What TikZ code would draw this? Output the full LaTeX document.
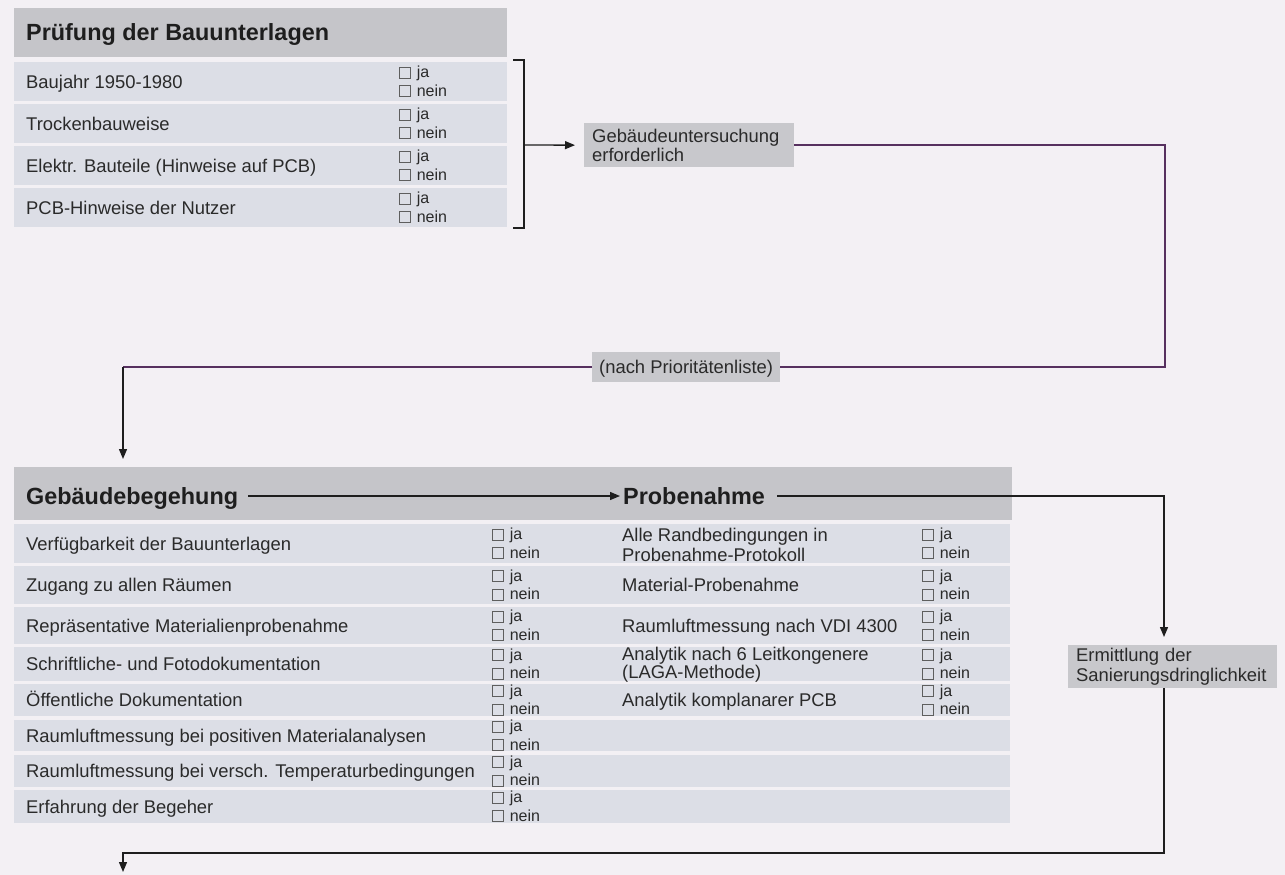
\documentclass[tikz,border=0pt]{standalone}
\usepackage{fontspec}
\setmainfont{Liberation Sans}
\usetikzlibrary{arrows.meta,calc}

\definecolor{paper}{HTML}{F3F0F4}
\definecolor{hdrgray}{HTML}{C5C5C9}
\definecolor{rowgray}{HTML}{DCDEE6}
\definecolor{boxfill}{HTML}{C8C8CC}
\definecolor{txt}{HTML}{2A2A2A}
\definecolor{boxgray}{HTML}{5E5E5E}
\definecolor{purp}{HTML}{56305F}
\definecolor{ink}{HTML}{1E1E1E}

\newcommand{\itemfont}{\fontsize{18.4}{19.5}\selectfont}
\newcommand{\headfont}{\fontsize{23.4}{26}\selectfont\bfseries}
\newcommand{\ynfont}{\fontsize{16}{18.5}\selectfont}
% empty tick box followed by a small gap
\newcommand{\chk}{\raisebox{-0.2pt}{\textcolor{boxgray}{\fboxsep=0pt\fboxrule=0.8pt\fbox{\hbox to 10pt{\vrule width 0pt height 10pt\hfil}}}}\hspace{6pt}}
\newcommand{\jn}{\chk ja\\\chk nein}

\tikzset{
  head/.style={font=\headfont, text=ink, inner sep=0pt, text height=16.8pt, text depth=0pt, anchor=west},
  item/.style={font=\itemfont, text=txt, inner sep=0pt, text height=13.2pt, text depth=0pt, anchor=west},
  item2/.style={font=\itemfont, text=txt, inner sep=0pt, align=left, anchor=west},
  yn/.style={font=\ynfont, text=txt, inner sep=0pt, align=left, anchor=west},
  graybox/.style={fill=boxfill, font=\itemfont, text=txt, align=left, anchor=north west, inner xsep=8pt, inner ysep=0pt},
  conn/.style={line width=1.3pt, draw=ink},
  pconn/.style={line width=1.6pt, draw=purp},
  arr/.style={-{Triangle[length=10pt,width=8pt]}},
}

\begin{document}
\begin{tikzpicture}[x=1pt, y=-1pt]
\useasboundingbox (0,0) rectangle (1285,875);
\fill[paper] (0,0) rectangle (1285,875);

% ---------- Prüfung der Bauunterlagen ----------
\fill[hdrgray] (14,8) rectangle (507,57);
\foreach \a/\b in {62/101,104/143,146/185,188/227}
  \fill[rowgray] (14,\a) rectangle (507,\b);
\node[head] (h1) at (26,32.5) {Prüfung der Bauunterlagen};

\node[item] (t1) at (26,81.5)  {Baujahr 1950-1980};
\node[item] (t2) at (26,123.5) {Trockenbauweise};
\node[item] (t3) at (26,165.5) {Elektr. Bauteile (Hinweise auf PCB)};
\node[item] (t4) at (26,207.5) {PCB-Hinweise der Nutzer};
\node[yn] (c1) at (399,81.5)  {\jn};
\node[yn] (c2) at (399,123.5) {\jn};
\node[yn] (c3) at (399,165.5) {\jn};
\node[yn] (c4) at (399,207.5) {\jn};

% bracket collecting the four answers
\draw[conn] (513,60) -- (524,60) -- (524,228) -- (513,228);
\coordinate (brk) at (524,145);

\node[graybox, text width=194pt, minimum height=44pt] (gu) at (584,123)
  {Gebäudeuntersuchung\\erforderlich};
\draw[conn,arr,shorten >=9pt] (brk) -- (gu.west);

% ---------- loop to the building inspection ----------
\node[graybox, anchor=west, minimum height=30pt, inner xsep=7pt, text height=13.2pt, text depth=0pt]
  (prio) at (592,367) {(nach Prioritätenliste)};
\coordinate (k1) at (1165,367);
\coordinate (k2) at (123,367);
\coordinate (gbtop) at (123,467);
\draw[pconn] (gu.east) -| (k1) -- (prio.east);
\draw[pconn] (prio.west) -- (k2);
\draw[conn,arr,shorten >=8pt] (k2) -- (gbtop);

% ---------- Gebäudebegehung / Probenahme ----------
\fill[hdrgray] (14,467) rectangle (1012,520);
\foreach \a/\b in {524/563,566/604,607/644,647/681,684/716,720/751,755/787,790/823}
  \fill[rowgray] (14,\a) rectangle (1010,\b);

\node[head] (gb) at (26,496) {Gebäudebegehung};
\node[head] (pn) at (623,496) {Probenahme};
\draw[conn,arr,shorten <=10pt,shorten >=3pt] (gb.east) -- (pn.west);

\node[item] (g1) at (26,543.5) {Verfügbarkeit der Bauunterlagen};
\node[item] (g2) at (26,585)   {Zugang zu allen Räumen};
\node[item] (g3) at (26,625.5) {Repräsentative Materialienprobenahme};
\node[item] (g4) at (26,664)   {Schriftliche- und Fotodokumentation};
\node[item] (g5) at (26,700)   {Öffentliche Dokumentation};
\node[item] (g6) at (26,735.5) {Raumluftmessung bei positiven Materialanalysen};
\node[item] (g7) at (26,771)   {Raumluftmessung bei versch. Temperaturbedingungen};
\node[item] (g8) at (26,806.5) {Erfahrung der Begeher};
\foreach \y [count=\i] in {543.5,585,625.5,664,700,735.5,771,806.5}
  \node[yn] (gc\i) at (492,\y) {\jn};

\node[item2] (p1) at (622,545) {Alle Randbedingungen in\\Probenahme-Protokoll};
\node[item]  (p2) at (622,585) {Material-Probenahme};
\node[item]  (p3) at (622,625.5) {Raumluftmessung nach VDI 4300};
\node[item2, font={\fontsize{18.4}{16.5}\selectfont}] (p4) at (622,665) {Analytik nach 6 Leitkongenere\\(LAGA-Methode)};
\node[item]  (p5) at (622,700) {Analytik komplanarer PCB};
\foreach \y [count=\i] in {543.5,585,625.5,664,700}
  \node[yn] (pc\i) at (922,\y) {\jn};

% ---------- urgency of remediation ----------
\node[graybox, text width=193pt, minimum height=43pt] (erm) at (1068,645)
  {Ermittlung der\\Sanierungsdringlichkeit};
\path (erm.north west) ++(96,0) coordinate (ermN);
\path (erm.south west) ++(96,0) coordinate (ermS);
\draw[conn,arr,shorten <=12pt,shorten >=8pt] (pn.east) -| (ermN);

\coordinate (k3) at (123,853);
\coordinate (nxt) at (123,872);
\draw[conn,arr] (ermS) |- (k3) -- (nxt);
\end{tikzpicture}
\end{document}
